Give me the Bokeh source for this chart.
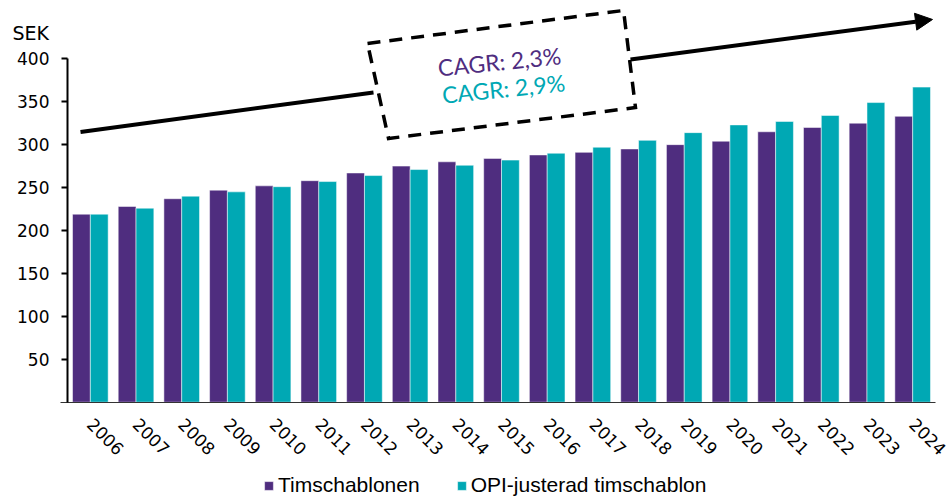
import math
from bokeh.plotting import figure
from bokeh.models import (Range1d, FixedTicker, Label, Arrow, NormalHead,
                          Legend, LegendItem, ColumnDataSource)
from bokeh.transform import dodge
from bokeh.embed import file_html
from bokeh.resources import INLINE

# ---- data ----
years = [str(y) for y in range(2006, 2025)]
timschablonen = [219, 228, 237, 247, 252, 258, 267, 275, 280, 284, 288, 291, 295, 300, 304, 315, 320, 325, 333]
opi_justerad = [219, 226, 240, 245, 251, 257, 264, 271, 276, 282, 290, 297, 305, 314, 323, 327, 334, 349, 367]
series_names = ["Timschablonen", "OPI-justerad timschablon"]
y_ticks = [50, 100, 150, 200, 250, 300, 350, 400]
y_label = "SEK"
cagr_texts = ["CAGR: 2,3%", "CAGR: 2,9%"]

# ---- style ----
PURPLE = "#4F2D7F"
TEAL = "#00A8B4"
colors = [PURPLE, TEAL]

# annotation geometry (x in category-index units, y in SEK)
trend_left = ([-0.215, 6.198], [314.7, 360.8])
trend_right = (11.824, 399.2, 18.434, 445.8)
box_x = [6.067, 11.671, 11.933, 6.527, 6.067]
box_y = [417.8, 456.3, 343.2, 307.2, 417.8]
cagr_pos = [(8.956, 396.9), (9.044, 365.4)]
sek_pos = (-1.704, 429.5)

idx = list(range(len(years)))
src = ColumnDataSource(dict(idx=idx, a=timschablonen, b=opi_justerad))

p = figure(x_range=Range1d(-1.9666, 18.828), y_range=Range1d(-112.17, 467.9),
           width=950, height=498, output_backend="svg", toolbar_location=None,
           min_border_left=0, min_border_right=0, min_border_top=0, min_border_bottom=0)

r1 = p.vbar(x=dodge("idx", -0.195), top="a", width=0.39, source=src,
            fill_color=colors[0], line_color="white", line_alpha=0.5, line_width=1)
r2 = p.vbar(x=dodge("idx", 0.195), top="b", width=0.39, source=src,
            fill_color=colors[1], line_color="white", line_alpha=0.5, line_width=1)

# trend line + arrow
p.line(x=trend_left[0], y=trend_left[1], line_width=4, line_color="black")
p.add_layout(Arrow(x_start=trend_right[0], y_start=trend_right[1],
                   x_end=trend_right[2], y_end=trend_right[3],
                   line_width=4, line_color="black",
                   end=NormalHead(size=17, fill_color="black", line_color="black", line_width=1)))
# dashed box
p.line(x=box_x, y=box_y, line_width=3.5, line_color="black", line_dash="13 9", line_join="miter")

for (cx, cy), txt, col in zip(cagr_pos, cagr_texts, colors):
    p.add_layout(Label(x=cx, y=cy, text=txt, angle=0.1, text_align="center",
                       text_baseline="middle", text_font="Lato", text_font_size="23px",
                       text_color=col))

p.add_layout(Label(x=sek_pos[0], y=sek_pos[1], text=y_label, text_align="left",
                   text_baseline="alphabetic", text_font="DejaVu Sans",
                   text_font_size="19px", text_color="black"))

# axes
p.xgrid.visible = False
p.ygrid.visible = False
p.outline_line_color = None

ya = p.yaxis[0]
ya.fixed_location = -0.5
ya.ticker = FixedTicker(ticks=y_ticks)
ya.bounds = (0, 400)
ya.axis_line_width = 2
ya.axis_line_color = "black"
ya.major_tick_line_width = 2
ya.major_tick_line_color = "black"
ya.major_tick_out = 6
ya.major_tick_in = 0
ya.minor_tick_line_color = None
ya.major_label_text_font = "DejaVu Sans"
ya.major_label_text_font_size = "17px"
ya.major_label_text_color = "black"
ya.major_label_standoff = 12

xa = p.xaxis[0]
xa.fixed_location = 0
xa.ticker = FixedTicker(ticks=idx)
xa.major_label_overrides = {i: y for i, y in zip(idx, years)}
xa.bounds = (-0.653, 18.5)
xa.axis_line_color = "#333333"
xa.axis_line_width = 1
xa.major_tick_line_color = None
xa.minor_tick_line_color = None
xa.major_label_orientation = -math.pi / 4
xa.major_label_text_font = "DejaVu Sans"
xa.major_label_text_font_size = "17px"
xa.major_label_text_color = "black"
xa.major_label_standoff = 13

legend = Legend(items=[LegendItem(label=series_names[0], renderers=[r1]),
                       LegendItem(label=series_names[1], renderers=[r2])],
                location=(263, 1), orientation="horizontal", padding=0, margin=0,
                spacing=36, glyph_width=11, glyph_height=11, label_standoff=4,
                label_text_font="Liberation Sans", label_text_font_size="21px",
                label_text_color="black", border_line_color=None, background_fill_alpha=0)
p.add_layout(legend)

open("out.html", "w").write(file_html(p, INLINE))
